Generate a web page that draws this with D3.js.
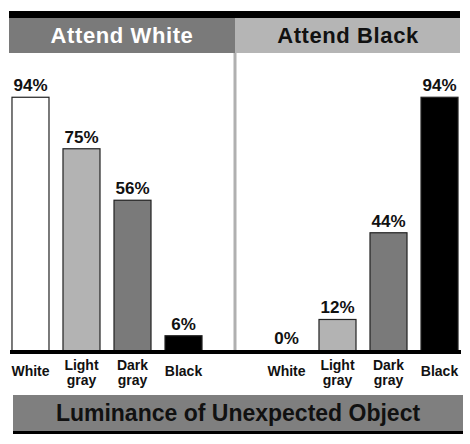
<!DOCTYPE html><html><head><meta charset="utf-8"><script src="https://cdn.jsdelivr.net/npm/d3@7"></script>
<style>body{margin:0;background:#fff}svg{display:block}text{font-family:"Liberation Sans",Arial,sans-serif;font-weight:bold}</style></head><body>
<script>
const categories=["White","Light gray","Dark gray","Black"];
const attendWhite=[94,75,56,6];
const attendBlack=[0,12,44,94];
const panelTitles=["Attend White","Attend Black"];
const axisTitle="Luminance of Unexpected Object";
const fills=["#ffffff","#b3b3b3","#7a7a7a","#000000"];
const svg=d3.select("body").append("svg").attr("width",470).attr("height",444);
const y=d3.scaleLinear().domain([0,100]).range([352,81]);
svg.append("rect").attr("x",9).attr("y",11).attr("width",451).attr("height",7).attr("fill","#000");
svg.append("rect").attr("x",9).attr("y",18).attr("width",226).attr("height",35).attr("fill","#7a7a7a");
svg.append("rect").attr("x",235).attr("y",18).attr("width",225).attr("height",35).attr("fill","#b5b5b5");
svg.append("text").attr("x",122).attr("y",43).attr("text-anchor","middle").attr("font-size",22).attr("letter-spacing",0.6).attr("fill","#fff").text(panelTitles[0]);
svg.append("text").attr("x",348).attr("y",43).attr("text-anchor","middle").attr("font-size",22).attr("letter-spacing",0.6).attr("fill","#111").text(panelTitles[1]);
svg.append("line").attr("x1",235).attr("x2",235).attr("y1",53).attr("y2",350).attr("stroke","#b0b0b0").attr("stroke-width",3);
[[attendWhite,5],[attendBlack,261]].forEach(([vals,x0])=>{
 const x=d3.scaleBand().domain(categories).range([x0,x0+204]).paddingInner(0.2745).paddingOuter(0.137);
 const g=svg.append("g");
 g.selectAll("rect").data(vals).join("rect").attr("x",(d,i)=>x(categories[i])).attr("y",d=>y(d)).attr("width",x.bandwidth()).attr("height",d=>y(0)-y(d)).attr("fill",(d,i)=>fills[i]).attr("stroke","#222").attr("stroke-width",1.2);
 g.selectAll("text.v").data(vals).join("text").attr("class","v").attr("x",(d,i)=>x(categories[i])+x.bandwidth()/2).attr("y",d=>y(d)-(d===0?8:6)).attr("text-anchor","middle").attr("font-size",17).attr("fill","#111").text(d=>d+"%");
 categories.forEach((c,i)=>{
  const parts=c.split(" ");
  const t=g.append("text").attr("x",x(c)+x.bandwidth()/2).attr("text-anchor","middle").attr("font-size",14).attr("fill","#111");
  if(parts.length===1) t.attr("y",376).text(c);
  else parts.forEach((p,j)=>t.append("tspan").attr("x",x(c)+x.bandwidth()/2).attr("y",370+j*15).text(p));
 });
});
svg.append("rect").attr("x",10).attr("y",350).attr("width",451).attr("height",4).attr("fill","#000");
svg.append("rect").attr("x",13).attr("y",395).attr("width",450).attr("height",36).attr("fill","#7f7f7f");
svg.append("rect").attr("x",13).attr("y",431).attr("width",450).attr("height",3).attr("fill","#000");
svg.append("text").attr("x",238).attr("y",421).attr("text-anchor","middle").attr("font-size",23).attr("fill","#111").text(axisTitle);
</script></body></html>
